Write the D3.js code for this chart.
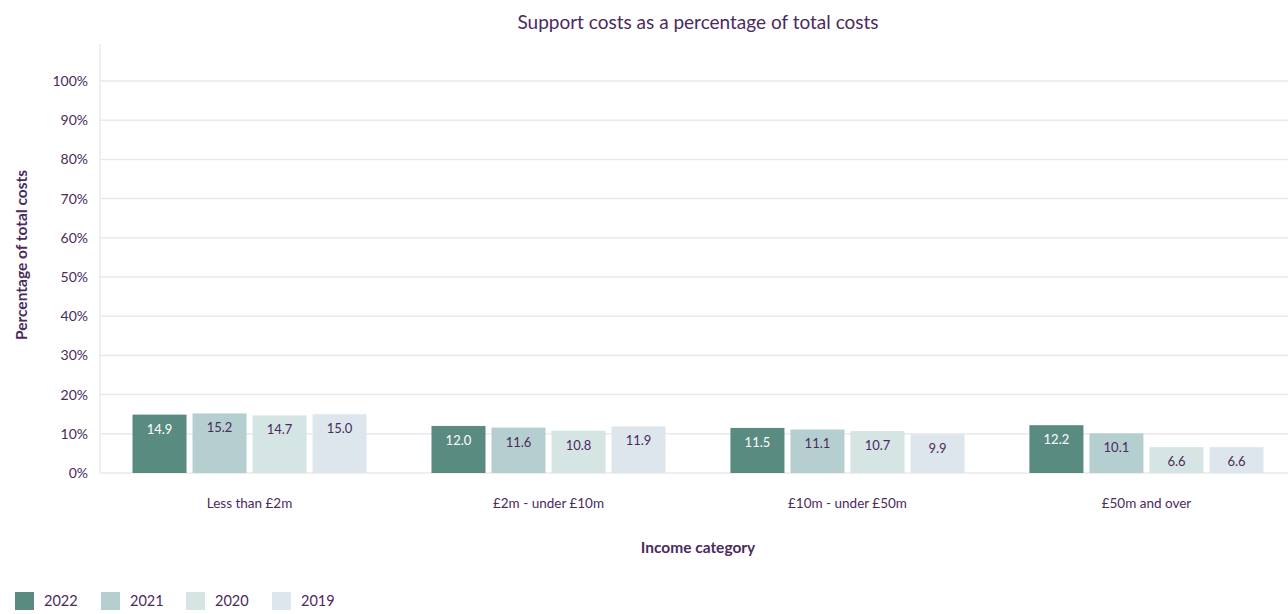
<!DOCTYPE html>
<meta charset="utf-8">
<style>
  body { margin: 0; background: #fff; }
  text { font-family: Lato, "Open Sans", sans-serif; fill: #4b2a5e; }
</style>
<svg width="1288" height="614"></svg>
<script src="https://cdn.jsdelivr.net/npm/d3@7"></script>
<script>

var categories = ["Less than £2m", "£2m - under £10m", "£10m - under £50m", "£50m and over"];
var years = ["2022", "2021", "2020", "2019"];
var v2022 = [14.9, 12.0, 11.5, 12.2];
var v2021 = [15.2, 11.6, 11.1, 10.1];
var v2020 = [14.7, 10.8, 10.7, 6.6];
var v2019 = [15.0, 11.9, 9.9, 6.6];
var yTicks = [0, 10, 20, 30, 40, 50, 60, 70, 80, 90, 100];

var series = [v2022, v2021, v2020, v2019];
var colors = ["#5a8b81", "#b5cfd0", "#d5e5e3", "#dee6ed"];
var labelColors = ["#ffffff", "#4b2a5e", "#4b2a5e", "#4b2a5e"];

var svg = d3.select("svg");

var x0 = d3.scaleBand().domain(categories).range([100, 1296]).paddingInner(0.217).paddingOuter(0.1087);
var x1 = d3.scaleBand().domain(years).range([0, x0.bandwidth()]).paddingInner(0.1);
var y = d3.scaleLinear().domain([0, 100]).range([473, 81]);

// gridlines
svg.append("g").selectAll("line").data(yTicks).join("line")
    .attr("x1", 100).attr("x2", 1288)
    .attr("y1", d => y(d)).attr("y2", d => y(d))
    .attr("stroke", "#ece7ef").attr("stroke-width", 1.5);

svg.append("line")
    .attr("x1", 100).attr("x2", 100).attr("y1", 44).attr("y2", 473)
    .attr("stroke", "#ece7ef").attr("stroke-width", 1.5);

// y tick labels
svg.append("g").selectAll("text").data(yTicks).join("text")
    .attr("x", 88).attr("y", d => y(d)).attr("dy", "0.35em")
    .attr("text-anchor", "end").style("font-size", "14px")
    .text(d => d + "%");

// bars
var groups = svg.append("g").selectAll("g").data(categories).join("g")
    .attr("transform", d => "translate(" + x0(d) + ",0)");

groups.each(function(cat, ci) {
  var g = d3.select(this);
  years.forEach(function(yr, si) {
    var v = series[si][ci];
    g.append("rect")
        .attr("x", x1(yr)).attr("width", x1.bandwidth())
        .attr("y", y(v)).attr("height", y(0) - y(v))
        .attr("fill", colors[si]);
    g.append("text")
        .attr("x", x1(yr) + x1.bandwidth() / 2).attr("y", y(v) + 19)
        .attr("text-anchor", "middle").style("font-size", "13px")
        .style("fill", labelColors[si])
        .text(v.toFixed(1));
  });
});

// x labels
svg.append("g").selectAll("text").data(categories).join("text")
    .attr("x", d => x0(d) + x0.bandwidth() / 2).attr("y", 508)
    .attr("text-anchor", "middle").style("font-size", "13.5px")
    .text(d => d);

// titles
svg.append("text").attr("x", 698).attr("y", 29).attr("text-anchor", "middle")
    .style("font-size", "19px").text("Support costs as a percentage of total costs");

svg.append("text").attr("x", 698).attr("y", 553).attr("text-anchor", "middle")
    .style("font-size", "15.5px").style("font-weight", "bold").text("Income category");

svg.append("text").attr("transform", "translate(27,255) rotate(-90)")
    .attr("text-anchor", "middle").style("font-size", "15.5px").style("font-weight", "bold")
    .text("Percentage of total costs");

// legend
var legendX = [15, 101, 186, 272];
var legend = svg.append("g").selectAll("g").data(years).join("g")
    .attr("transform", (d, i) => "translate(" + legendX[i] + ",592)");
legend.append("rect").attr("width", 19).attr("height", 18).attr("fill", (d, i) => colors[i]);
legend.append("text").attr("x", 29).attr("y", 9).attr("dy", "0.35em")
    .style("font-size", "14.5px").text(d => d);

</script>
